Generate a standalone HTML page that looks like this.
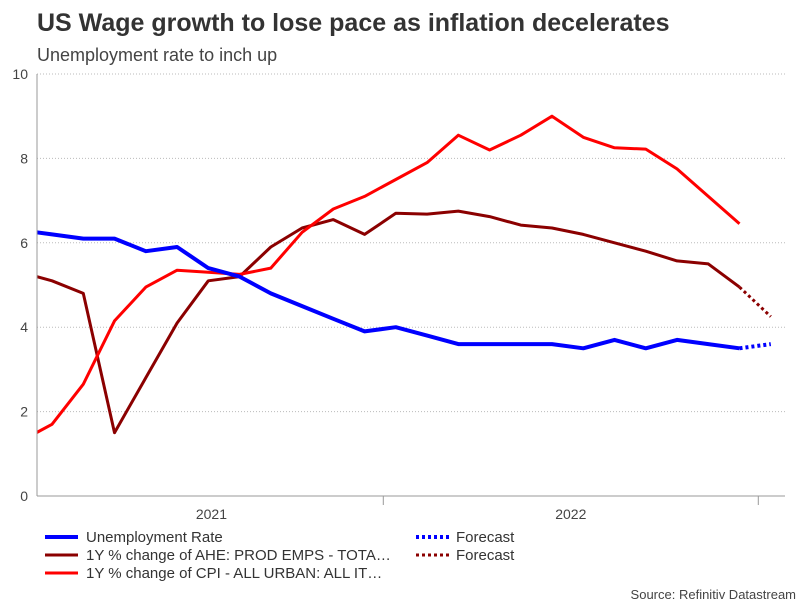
<!DOCTYPE html>
<html><head><meta charset="utf-8"><style>
body{margin:0;background:#fff;font-family:"Liberation Sans",sans-serif;}
</style></head><body>
<svg width="806" height="605" xmlns="http://www.w3.org/2000/svg" font-family="Liberation Sans, sans-serif">
<defs><clipPath id="pc"><rect x="37" y="60" width="750" height="440"/></clipPath></defs>
<text x="37" y="31" font-size="25" font-weight="bold" fill="#333">US Wage growth to lose pace as inflation decelerates</text>
<text x="37" y="61" font-size="18" fill="#444">Unemployment rate to inch up</text>
<g id="grid"></g>
<g id="series" clip-path="url(#pc)"></g>
<g id="axes"></g>
<g font-size="15" fill="#333">
<line x1="45" y1="537" x2="78" y2="537" stroke="#0000ff" stroke-width="4"/>
<text x="86" y="542">Unemployment Rate</text>
<line x1="45" y1="555" x2="78" y2="555" stroke="#8b0000" stroke-width="3"/>
<text x="86" y="560">1Y % change of AHE: PROD EMPS - TOTA…</text>
<line x1="45" y1="573" x2="78" y2="573" stroke="#ff0000" stroke-width="3"/>
<text x="86" y="578">1Y % change of CPI - ALL URBAN: ALL IT…</text>
<line x1="416" y1="537" x2="449" y2="537" stroke="#0000ff" stroke-width="4" stroke-dasharray="3,3"/>
<text x="456" y="542">Forecast</text>
<line x1="416" y1="555" x2="449" y2="555" stroke="#8b0000" stroke-width="3" stroke-dasharray="3,3"/>
<text x="456" y="560">Forecast</text>
</g>
<text x="796" y="599" font-size="13" fill="#444" text-anchor="end">Source: Refinitiv Datastream</text>
</svg>
<script>
const unemployment=[6.3,6.2,6.1,6.1,5.8,5.9,5.4,5.2,4.8,4.5,4.2,3.9,4.0,3.8,3.6,3.6,3.6,3.6,3.5,3.7,3.5,3.7,3.6,3.5];
const unemploymentForecast=[3.5,3.6];
const ahe=[5.3,5.1,4.8,1.5,2.8,4.1,5.1,5.2,5.9,6.35,6.55,6.2,6.7,6.68,6.75,6.62,6.42,6.35,6.2,6.0,5.8,5.57,5.5,4.95];
const aheForecast=[4.95,4.25];
const cpi=[1.3,1.7,2.65,4.15,4.95,5.35,5.3,5.25,5.4,6.25,6.8,7.1,7.5,7.9,8.55,8.2,8.55,9.0,8.5,8.25,8.22,7.75,7.1,6.45];
const yTicks=[0,2,4,6,8,10];
const xLabels=["2021","2022"];
const xLabelIdx=[6.1,17.6];
const xTickIdx=[11.6,23.6];
const NS='http://www.w3.org/2000/svg';
const xs=i=>20.8+31.25*i;
const ys=v=>496-42.2*v;
function mk(t,a,p){const e=document.createElementNS(NS,t);for(const k in a)e.setAttribute(k,a[k]);p.appendChild(e);return e;}
const grid=document.getElementById('grid'),axes=document.getElementById('axes'),ser=document.getElementById('series');
yTicks.forEach(v=>{
 if(v>0){const l=mk('line',{x1:37,x2:785,y1:ys(v),y2:ys(v),stroke:'#bbb','stroke-dasharray':'1,2'},grid);
 
 }
 const t=mk('text',{x:28,y:ys(v)+5,'font-size':14,fill:'#444','text-anchor':'end'},axes);t.textContent=v;
 
 
});
const ax=mk('line',{x1:37,x2:785,y1:496,y2:496,stroke:'#999'},axes);


const ay=mk('line',{x1:37,x2:37,y1:74,y2:496,stroke:'#999'},axes);


xTickIdx.forEach((i,k)=>{const l=mk('line',{x1:xs(i),x2:xs(i),y1:496,y2:505,stroke:'#999'},axes);
 
 });
xLabels.forEach((s,k)=>{const t=mk('text',{x:xs(xLabelIdx[k]),y:519,'font-size':14,fill:'#444','text-anchor':'middle'},axes);t.textContent=s;
 
 });
function line(data,start,color,w,dash,name){
 const d=data.map((v,i)=>(i?'L':'M')+xs(start+i).toFixed(1)+','+ys(v).toFixed(1)).join('');
 const a={d:d,fill:'none',stroke:color,'stroke-width':w,'stroke-linejoin':'round'};if(dash)a['stroke-dasharray']=dash;
 const p=mk('path',a,ser);
 
 
}
line(ahe,0,'#8b0000',3,null,'ahe-line');
line(aheForecast,23,'#8b0000',3,'3,3','ahe-forecast-line');
line(cpi,0,'#ff0000',3,null,'cpi-line');
line(unemployment,0,'#0000ff',4,null,'unemployment-line');
line(unemploymentForecast,23,'#0000ff',4,'3,3','unemployment-forecast-line');
</script>
</body></html>
